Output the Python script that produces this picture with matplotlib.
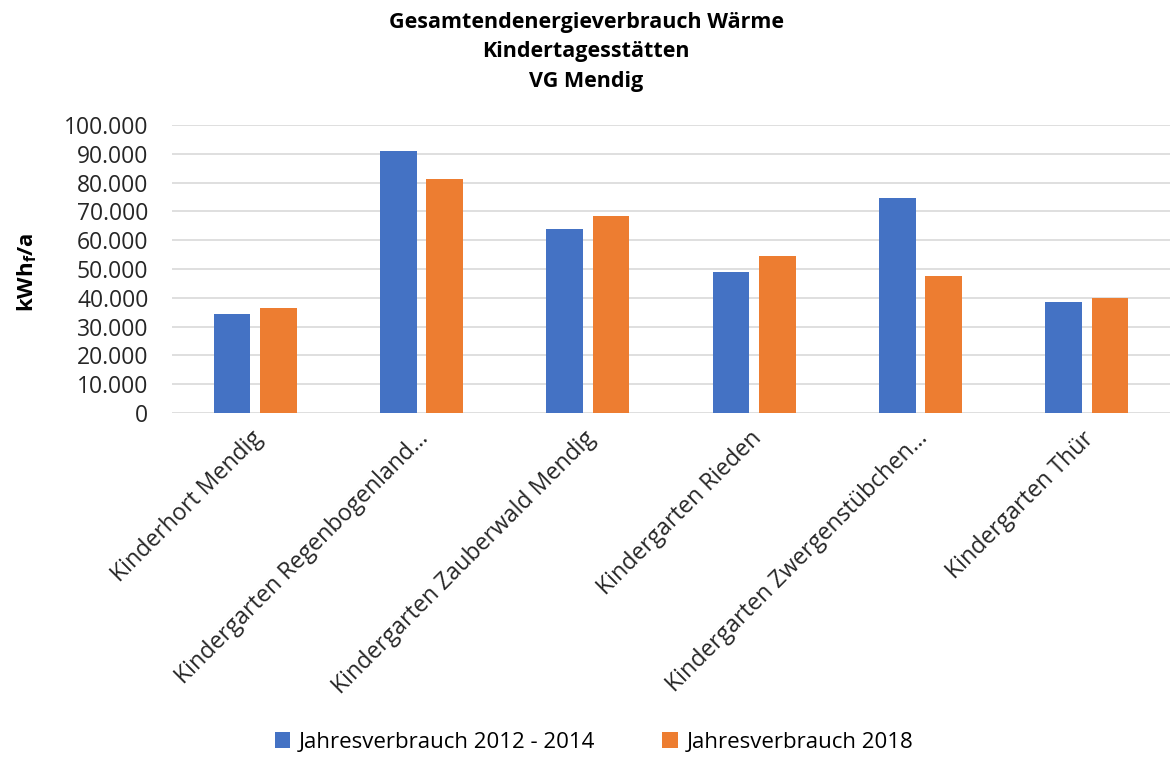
import numpy as np
import matplotlib.pyplot as plt
from matplotlib.ticker import FuncFormatter
from matplotlib.transforms import ScaledTranslation

plt.rcParams['font.family'] = ['Open Sans', 'DejaVu Sans']

# Daten
kitas = ['Kinderhort Mendig', 'Kindergarten Regenbogenland…', 'Kindergarten Zauberwald Mendig',
         'Kindergarten Rieden', 'Kindergarten Zwergenstübchen…', 'Kindergarten Thür']
verbrauch_2012_2014 = [34300, 91000, 63900, 49100, 74500, 38700]
verbrauch_2018 = [36300, 81400, 68500, 54600, 47500, 39800]

blau = '#4472C4'
orange = '#ED7D31'

fig = plt.figure(figsize=(11.71, 7.58), dpi=100)
ax = fig.add_axes([172 / 1171, 1 - 413 / 758, (1170 - 172) / 1171, (413 - 125) / 758])

x = np.arange(len(kitas))
b = 0.22
ax.bar(x - 0.03 - b / 2, verbrauch_2012_2014, width=b, color=blau, label='Jahresverbrauch 2012 - 2014', zorder=3)
ax.bar(x + 0.03 + b / 2, verbrauch_2018, width=b, color=orange, label='Jahresverbrauch 2018', zorder=3)

ax.set_xlim(-0.5, len(kitas) - 0.5)
ax.set_ylim(0, 100000)
ax.set_yticks(np.arange(0, 100001, 10000))
ax.yaxis.set_major_formatter(FuncFormatter(lambda v, p: f'{int(v):,}'.replace(',', '.')))
ax.grid(axis='y', color='#d9d9d9', linewidth=1.2, zorder=0)
for s in ax.spines.values():
    s.set_visible(False)
ax.tick_params(axis='both', length=0, labelsize=16.5, colors='#262626')
ax.tick_params(axis='y', pad=17)
ax.set_xticks(x)
ax.set_xticklabels(kitas, rotation=45, ha='right', va='center', rotation_mode='anchor', fontsize=16.7)
ax.tick_params(axis='x', pad=16)
# kleine Verschiebung nach rechts wie in Excel
for lab in ax.get_xticklabels():
    lab.set_transform(lab.get_transform() + ScaledTranslation(4 / 100, 0, fig.dpi_scale_trans))

ax.set_ylabel('kWh$_\\mathregular{f}$/a', fontsize=16, fontweight='bold')
ax.yaxis.set_label_coords((39 - 172) / 998, 0.49)

fig.text(586 / 1171, 1 - 52 / 758, 'Gesamtendenergieverbrauch Wärme\nKindertagesstätten\nVG Mendig',
         ha='center', va='center', fontsize=15.5, fontweight='bold', linespacing=1.52)

fig.legend(loc='center', bbox_to_anchor=(594 / 1171, 1 - 742 / 758), ncol=2, frameon=False,
           fontsize=16, handlelength=0.7, handleheight=0.7, columnspacing=3, handletextpad=0.4)

fig.savefig('out.png', dpi=100)
